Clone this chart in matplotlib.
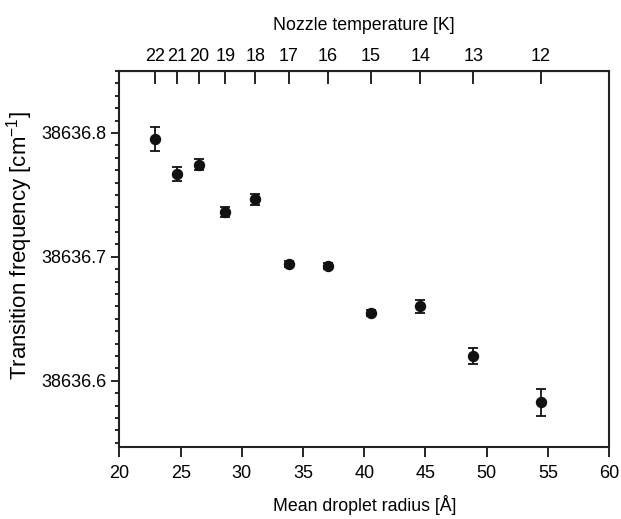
import numpy as np
import matplotlib
matplotlib.use("Agg")
import matplotlib.pyplot as plt
from matplotlib.ticker import MultipleLocator, FormatStrFormatter

plt.rcParams['font.family'] = ['Liberation Sans', 'DejaVu Sans']
plt.rcParams['mathtext.default'] = 'regular'

# data
radius = np.array([22.93, 24.70, 26.52, 28.65, 31.10, 33.85, 37.01, 40.55, 44.58, 48.91, 54.44])
freq = np.array([38636.795, 38636.767, 38636.7745, 38636.736, 38636.7465, 38636.694,
                 38636.6925, 38636.6546, 38636.660, 38636.620, 38636.5826])
err = np.array([0.0098, 0.0055, 0.0048, 0.0040, 0.0045, 0.0025, 0.0025, 0.0022, 0.0050, 0.0066, 0.0108])
temps = ['22', '21', '20', '19', '18', '17', '16', '15', '14', '13', '12']

fig = plt.figure(figsize=(6.21, 5.19), dpi=100)
ax = fig.add_axes([0.1924, 0.1387, 0.7883, 0.7245])

ax.errorbar(radius, freq, yerr=err, fmt='o', color='#111111', ms=7.2,
            elinewidth=1.3, capsize=3.8, capthick=1.3)

ax.set_xlim(20, 60)
ax.set_ylim(38636.5465, 38636.85)
ax.xaxis.set_major_locator(MultipleLocator(5))
ax.yaxis.set_major_locator(MultipleLocator(0.1))
ax.yaxis.set_minor_locator(MultipleLocator(0.01))
ax.yaxis.set_major_formatter(FormatStrFormatter('%.1f'))

ax.tick_params(axis='x', which='major', direction='out', length=7, width=1.2,
               labelsize=13, pad=6, top=False)
ax.tick_params(axis='y', which='major', direction='out', length=6, width=1.2,
               labelsize=13, right=False)
ax.tick_params(axis='y', which='minor', direction='out', length=3, width=1.2, right=False)

for s in ax.spines.values():
    s.set_linewidth(1.5)
    s.set_color('#222222')

ax.set_xlabel('Mean droplet radius [Å]', fontsize=12.8, labelpad=9)
ax.set_ylabel('Transition frequency [cm$^{-1}$]', fontsize=16)
ax.yaxis.set_label_coords(-0.172, 0.535)

top = ax.secondary_xaxis('top')
top.set_xticks(radius)
top.set_xticklabels(temps)
top.tick_params(direction='in', length=9, width=1.2, labelsize=13, pad=4)
top.set_xlabel('Nozzle temperature [K]', fontsize=12.8, labelpad=13)

fig.savefig('out.png', dpi=100)
